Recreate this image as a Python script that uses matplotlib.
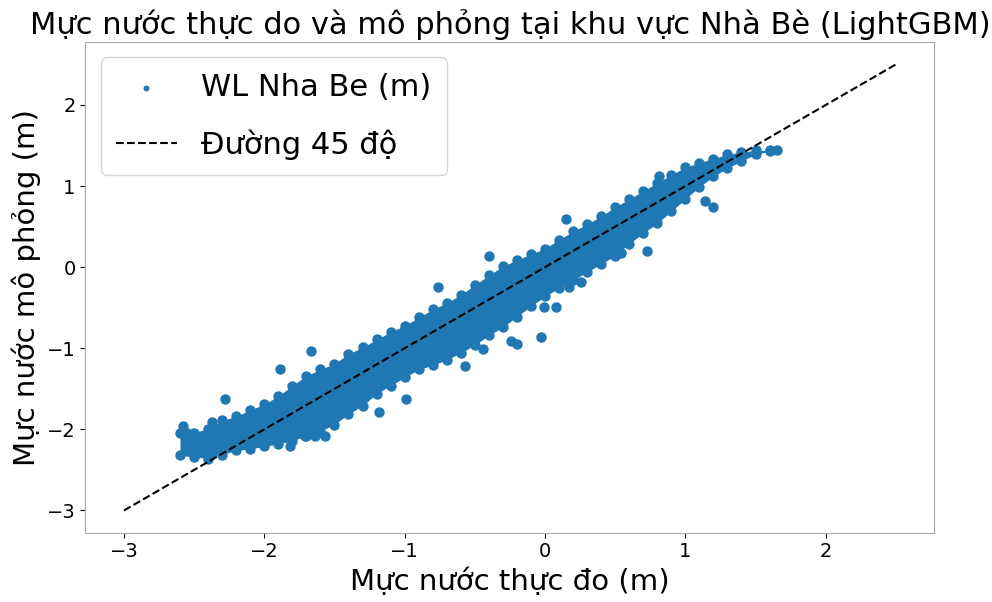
import numpy as np
import matplotlib.pyplot as plt

# band of the point cloud, read per column (centres of the outermost dots)
col_x = [-2.6, -2.5, -2.4, -2.3, -2.2, -2.1, -2.0, -1.9, -1.8, -1.7, -1.6,
         -1.5, -1.4, -1.3, -1.2, -1.1, -1.0, -0.9, -0.8, -0.7, -0.6, -0.5,
         -0.4, -0.3, -0.2, -0.1, 0.0, 0.1, 0.2, 0.3, 0.4, 0.5, 0.6, 0.7,
         0.8, 0.9, 1.0, 1.1, 1.2, 1.3, 1.4, 1.5, 1.6]
col_top = [-2.05, -2.04, -1.99, -1.89, -1.84, -1.76, -1.69, -1.59, -1.46, -1.34, -1.26,
           -1.19, -1.07, -0.99, -0.89, -0.80, -0.72, -0.62, -0.52, -0.44, -0.34, -0.22,
           -0.10, 0.01, 0.09, 0.16, 0.23, 0.34, 0.44, 0.53, 0.63, 0.74, 0.84, 0.94,
           1.04, 1.14, 1.23, 1.29, 1.34, 1.39, 1.42, 1.44, 1.44]
col_bot = [-2.32, -2.34, -2.36, -2.31, -2.26, -2.24, -2.21, -2.18, -2.14, -2.08, -2.02,
           -1.94, -1.81, -1.71, -1.56, -1.46, -1.36, -1.26, -1.21, -1.14, -1.06, -0.96,
           -0.84, -0.74, -0.61, -0.48, -0.36, -0.26, -0.16, -0.06, 0.04, 0.14, 0.29,
           0.42, 0.54, 0.69, 0.84, 0.99, 1.12, 1.22, 1.31, 1.39, 1.43]

# isolated points outside the band
out_x = [-2.58, -2.55, -2.37, -2.28, -1.89, -1.82, -1.71, -1.67, -1.64, -1.57,
         -1.18, -0.99, -0.76, -0.57, -0.44, -0.40, -0.24, -0.20, -0.03, -0.01,
         0.08, 0.15, 0.17, 0.26, 0.54, 0.73, 0.81, 1.14, 1.20, 1.65]
out_y = [-1.96, -2.05, -1.91, -1.62, -1.25, -2.20, -2.08, -1.03, -2.08, -2.08,
         -1.78, -1.62, -0.25, -1.22, -1.01, 0.14, -0.91, -0.95, -0.86, -0.49,
         -0.49, 0.60, -0.25, -0.18, 0.18, 0.20, 1.13, 0.81, 0.74, 1.45]

line_45 = [-3, 2.5]

color = '#1f77b4'

fig = plt.figure(figsize=(9.92, 6.02), dpi=100)
ax = fig.add_axes([0.086, 0.115, 0.856, 0.815])

ax.fill_between(col_x, col_bot, col_top, color=color, lw=0)
pts_x = col_x + col_x + out_x
pts_y = col_top + col_bot + out_y
ax.scatter(pts_x, pts_y, s=42, color=color, label='WL Nha Be (m)')
ax.plot(line_45, line_45, 'k--', lw=1.5, label='Đường 45 độ')

ax.set_xticks([-3, -2, -1, 0, 1, 2])
ax.set_yticks([-3, -2, -1, 0, 1, 2])
ax.tick_params(labelsize=14)
for s in ax.spines.values():
    s.set_color('#aaaaaa')

ax.set_xlabel('Mực nước thực đo (m)', fontsize=21)
ax.set_ylabel('Mực nước mô phỏng (m)', fontsize=21)
ax.set_title('Mực nước thực do và mô phỏng tại khu vực Nhà Bè (LightGBM)', fontsize=22)
ax.legend(loc='upper left', fontsize=22, markerscale=0.5, labelspacing=0.9,
          borderpad=0.5)

fig.savefig('out.png')
